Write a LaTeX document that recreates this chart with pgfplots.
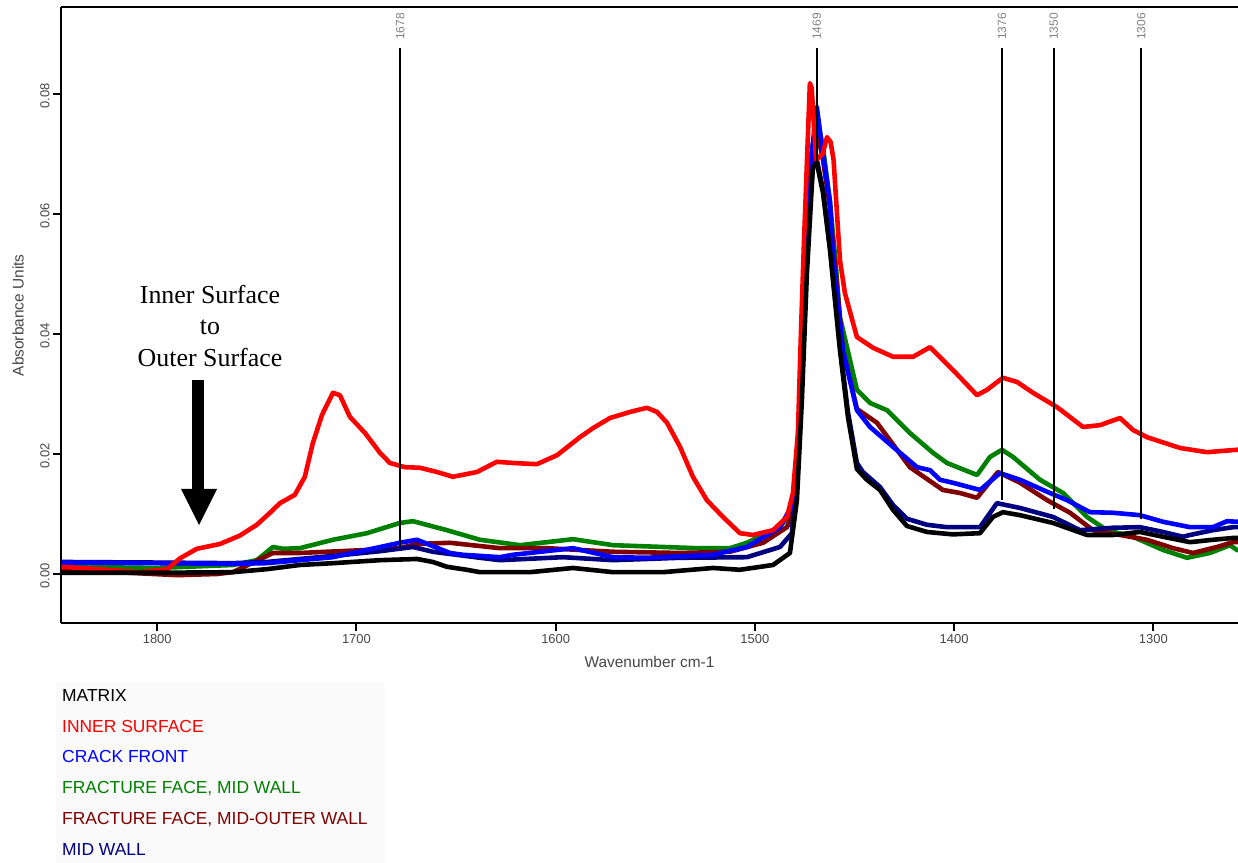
\documentclass[border=0pt]{standalone}
\usepackage{fontspec}
\setmainfont{Liberation Sans}
\newfontfamily\seriffont{Liberation Serif}
\usepackage{pgfplots}
\pgfplotsset{compat=1.18}
\definecolor{cRed}{RGB}{255,0,0}
\definecolor{cBlue}{RGB}{0,0,255}
\definecolor{cGreen}{RGB}{0,128,0}
\definecolor{cBrown}{RGB}{128,0,0}
\definecolor{cNavy}{RGB}{0,0,128}
\definecolor{cTick}{RGB}{70,70,70}
\definecolor{cPeak}{RGB}{130,130,130}
\tikzset{peaklbl/.style={rotate=90, anchor=west, inner sep=0pt, text=cPeak, font=\fontsize{12}{14}\selectfont}}
\begin{document}
\begin{tikzpicture}
\path[use as bounding box] (0,0) rectangle (1238bp,863bp);
\fill[black!2] (56bp,0) rectangle (385bp,181bp);
\begin{axis}[
  at={(61bp,239.7bp)}, anchor=south west,
  scale only axis, width=1177bp, height=616bp,
  x dir=reverse,
  xmin=1257.5, xmax=1848.3, ymin=-0.00822, ymax=0.09445,
  axis x line*=box, axis y line*=left,
  xtick pos=left,
  axis line style={line width=2bp},
  tick style={line width=2bp, black},
  major tick length=8bp, tick align=outside,
  xtick={1300,1400,1500,1600,1700,1800},
  ytick={0,0.02,0.04,0.06,0.08},
  scaled y ticks=false,
  /pgf/number format/assume math mode=true,
  xticklabel style={/pgf/number format/1000 sep={}},
  yticklabel style={rotate=90, anchor=south, xshift=-2bp, /pgf/number format/fixed, /pgf/number format/fixed zerofill, /pgf/number format/precision=2},
  tick label style={font=\fontsize{13}{15}\selectfont, text=cTick},
  xlabel={Wavenumber cm-1}, ylabel={Absorbance Units},
  label style={font=\fontsize{15.5}{18}\selectfont, text=cTick},
  xlabel style={at={(axis description cs:0.5,-0.0633)}, anchor=center},
  ylabel style={at={(axis description cs:-0.0365,0.5)}, anchor=center},
  every axis plot/.append style={line width=4.6bp, line join=round, no markers},
]
% FRACTURE FACE, MID WALL
\addplot[cGreen] coordinates {(1848,0.0012) (1800,0.0010) (1762,0.0015) (1750.0,0.0023) (1741.9,0.0045) (1736.9,0.0042) (1728.4,0.0043) (1711.8,0.0057) (1694.7,0.0068) (1678.2,0.0085) (1671.6,0.0088) (1654.6,0.0073) (1638.0,0.0057) (1617.9,0.0048) (1604.4,0.0053) (1591.3,0.0058) (1571.2,0.0048) (1546.1,0.0045) (1529.1,0.0043) (1512.5,0.0043) (1504.0,0.0052) (1487.4,0.0078) (1479.9,0.0112) (1477.4,0.0280) (1474.5,0.0500) (1471.5,0.0700) (1468.9,0.0760) (1465.8,0.0710) (1462.3,0.0620) (1459.5,0.0520) (1457.3,0.0428) (1452.3,0.0357) (1448.8,0.0307) (1442.2,0.0285) (1433.7,0.0273) (1422.2,0.0235) (1410.6,0.0202) (1403.6,0.0185) (1388.5,0.0165) (1382.0,0.0195) (1376.0,0.0207) (1370.4,0.0195) (1356.9,0.0157) (1345.3,0.0135) (1333.3,0.0095) (1323.3,0.0073) (1310.2,0.0062) (1295.1,0.0040) (1283.1,0.0027) (1271.6,0.0035) (1261.5,0.0048) (1258.0,0.0040) (1255,0.0040)};
% FRACTURE FACE, MID-OUTER WALL
\addplot[cBrown] coordinates {(1848,0.0005) (1820,0.0003) (1790,-0.0002) (1770,0.0000) (1762,0.0003) (1741.9,0.0035) (1728.4,0.0035) (1694.7,0.0040) (1678.2,0.0043) (1669.6,0.0050) (1653.1,0.0052) (1628.0,0.0043) (1604.4,0.0043) (1571.2,0.0037) (1537.6,0.0035) (1512.5,0.0037) (1495.9,0.0052) (1483.9,0.0078) (1479.9,0.0110) (1477.4,0.0280) (1474.5,0.0500) (1471.5,0.0690) (1468.9,0.0740) (1465.8,0.0690) (1462.3,0.0610) (1460,0.0520) (1455.8,0.0373) (1448.8,0.0275) (1438.7,0.0252) (1422.2,0.0178) (1405.6,0.0140) (1397.1,0.0135) (1388.5,0.0127) (1378.0,0.0170) (1366.9,0.0152) (1353.3,0.0123) (1341.8,0.0102) (1330.3,0.0073) (1316.7,0.0065) (1303.2,0.0057) (1290.1,0.0043) (1280.1,0.0035) (1268.0,0.0045) (1260.0,0.0053) (1255,0.0053)};
% MID WALL
\addplot[cNavy] coordinates {(1848,0.0020) (1800,0.0019) (1762,0.0018) (1745,0.0020) (1711.8,0.0030) (1688.2,0.0038) (1671.6,0.0045) (1661.6,0.0037) (1638.0,0.0027) (1628.0,0.0023) (1596.3,0.0028) (1571.2,0.0023) (1537.6,0.0027) (1504.0,0.0028) (1487.4,0.0045) (1481.4,0.0068) (1478.9,0.0180) (1476.4,0.0350) (1473.9,0.0550) (1470.9,0.0680) (1468.9,0.0690) (1465.8,0.0640) (1462.3,0.0545) (1457.3,0.0380) (1453.3,0.0270) (1448.8,0.0185) (1445.8,0.0170) (1437.2,0.0145) (1430.7,0.0115) (1423.7,0.0092) (1413.6,0.0082) (1403.6,0.0078) (1387.0,0.0078) (1378.5,0.0118) (1366.9,0.0110) (1350.3,0.0095) (1336.8,0.0073) (1320.2,0.0077) (1306.7,0.0078) (1295.1,0.0070) (1285.1,0.0062) (1281.6,0.0065) (1270.1,0.0073) (1260.0,0.0078) (1255,0.0078)};
% CRACK FRONT
\addplot[cBlue] coordinates {(1848,0.0019) (1800,0.0018) (1760,0.0017) (1745.0,0.0018) (1711.8,0.0028) (1678.2,0.0052) (1669.6,0.0057) (1653.1,0.0035) (1646.6,0.0032) (1628.0,0.0028) (1621.4,0.0032) (1591.3,0.0043) (1571.2,0.0028) (1554.2,0.0027) (1521.0,0.0032) (1504.0,0.0045) (1487.4,0.0078) (1479.9,0.0123) (1477.4,0.0290) (1474.5,0.0500) (1471.5,0.0700) (1468.9,0.0778) (1465.8,0.0700) (1462.3,0.0620) (1460.8,0.0530) (1455.8,0.0373) (1448.8,0.0273) (1442.2,0.0245) (1430.7,0.0212) (1418.6,0.0178) (1412.1,0.0173) (1407.1,0.0157) (1400.6,0.0152) (1387.0,0.0140) (1377.0,0.0168) (1366.9,0.0157) (1353.3,0.0137) (1343.3,0.0123) (1331.8,0.0103) (1320.2,0.0102) (1306.7,0.0098) (1295.1,0.0087) (1281.6,0.0078) (1270.1,0.0078) (1263.0,0.0088) (1258.0,0.0087) (1255,0.0087)};
% INNER SURFACE
\addplot[cRed] coordinates {(1848,0.0012) (1830,0.0008) (1808.7,0.0003) (1795,0.0008) (1788.6,0.0026) (1780.1,0.0042) (1768.5,0.0050) (1758.5,0.0064) (1750.0,0.0082) (1743.4,0.0102) (1738.4,0.0118) (1730.9,0.0132) (1725.9,0.0162) (1721.9,0.0218) (1717.3,0.0265) (1711.8,0.0302) (1708.3,0.0298) (1703.3,0.0262) (1695.7,0.0235) (1688.2,0.0202) (1683.2,0.0185) (1675.7,0.0178) (1668.1,0.0177) (1659.6,0.0170) (1651.6,0.0162) (1639.5,0.0170) (1629.5,0.0187) (1621.4,0.0185) (1609.4,0.0183) (1599.3,0.0198) (1587.8,0.0228) (1581.3,0.0243) (1572.7,0.0260) (1562.7,0.0270) (1554.2,0.0277) (1549.1,0.0270) (1544.1,0.0252) (1537.6,0.0212) (1531.1,0.0162) (1524.1,0.0123) (1516.0,0.0095) (1507.5,0.0068) (1501.0,0.0065) (1490.9,0.0073) (1483.9,0.0095) (1480.9,0.0135) (1478.4,0.0235) (1476.9,0.0400) (1475.4,0.0550) (1473.5,0.0720) (1472.4,0.0818) (1471.5,0.0810) (1469.3,0.0690) (1466,0.0700) (1463.8,0.0728) (1462,0.0720) (1460.5,0.0690) (1457.3,0.0523) (1454.8,0.0468) (1448.8,0.0395) (1440.7,0.0377) (1430.7,0.0362) (1420.6,0.0362) (1412.1,0.0378) (1400.6,0.0340) (1388.5,0.0298) (1383.5,0.0307) (1375.5,0.0327) (1368.4,0.0320) (1360.4,0.0302) (1348.3,0.0278) (1335.3,0.0245) (1326.8,0.0248) (1316.7,0.0260) (1310.2,0.0240) (1303.2,0.0228) (1286.6,0.0210) (1273.1,0.0203) (1258.0,0.0207) (1255,0.0207)};
% MATRIX
\addplot[black] coordinates {(1848,0.0002) (1800,0.0002) (1762,0.0003) (1745,0.0008) (1728.4,0.0015) (1711.8,0.0018) (1688.2,0.0023) (1669.6,0.0025) (1661.6,0.0020) (1654.6,0.0012) (1644.6,0.0007) (1638.0,0.0003) (1612.9,0.0003) (1591.3,0.0010) (1571.2,0.0003) (1546.1,0.0003) (1521.0,0.0010) (1507.5,0.0007) (1490.9,0.0015) (1482.4,0.0035) (1478.9,0.0123) (1476.4,0.0290) (1473.9,0.0500) (1470.9,0.0678) (1468.9,0.0685) (1465.8,0.0635) (1462.3,0.0540) (1457.3,0.0373) (1453.3,0.0262) (1448.8,0.0175) (1443.8,0.0157) (1437.2,0.0140) (1430.7,0.0107) (1423.7,0.0080) (1413.6,0.0070) (1400.6,0.0066) (1387.0,0.0068) (1380.5,0.0095) (1375.5,0.0103) (1366.9,0.0098) (1350.3,0.0085) (1333.3,0.0065) (1320.2,0.0065) (1306.7,0.0070) (1295.1,0.0062) (1281.6,0.0053) (1270.1,0.0057) (1260.0,0.0060) (1255,0.0060)};
% peak markers
\draw[line width=2bp] (axis cs:1678,0.0045) -- (axis cs:1678,0.0877);
\draw[line width=2bp] (axis cs:1469,0.0680) -- (axis cs:1469,0.0877);
\draw[line width=2bp] (axis cs:1376,0.0123) -- (axis cs:1376,0.0877);
\draw[line width=2bp] (axis cs:1350,0.0108) -- (axis cs:1350,0.0877);
\draw[line width=2bp] (axis cs:1306,0.0092) -- (axis cs:1306,0.0877);
\node[peaklbl] at (axis cs:1678,0.0890) {1678};
\node[peaklbl] at (axis cs:1469,0.0890) {1469};
\node[peaklbl] at (axis cs:1376,0.0890) {1376};
\node[peaklbl] at (axis cs:1350,0.0890) {1350};
\node[peaklbl] at (axis cs:1306,0.0890) {1306};
\end{axis}
% annotation
\fill (192bp,483bp) rectangle (204bp,372bp);
\fill (181bp,374bp) -- (217bp,374bp) -- (199bp,338bp) -- cycle;
\begin{scope}[every node/.style={anchor=base, inner sep=0pt, font=\seriffont\fontsize{26}{30}\selectfont}]
\node at (210bp,559bp) {Inner Surface};
\node at (210bp,528bp) {to};
\node at (210bp,496bp) {Outer Surface};
\end{scope}
% legend
\begin{scope}[every node/.style={anchor=base west, inner sep=0pt, font=\fontsize{17.5}{20}\selectfont}]
\node[text=black] at (62bp,161bp) {MATRIX};
\node[text=cRed] at (62bp,130bp) {INNER SURFACE};
\node[text=cBlue] at (62bp,100bp) {CRACK FRONT};
\node[text=cGreen] at (62bp,69bp) {FRACTURE FACE, MID WALL};
\node[text=cBrown] at (62bp,39bp) {FRACTURE FACE, MID-OUTER WALL};
\node[text=cNavy] at (62bp,8bp) {MID WALL};
\end{scope}
\end{tikzpicture}
\end{document}
